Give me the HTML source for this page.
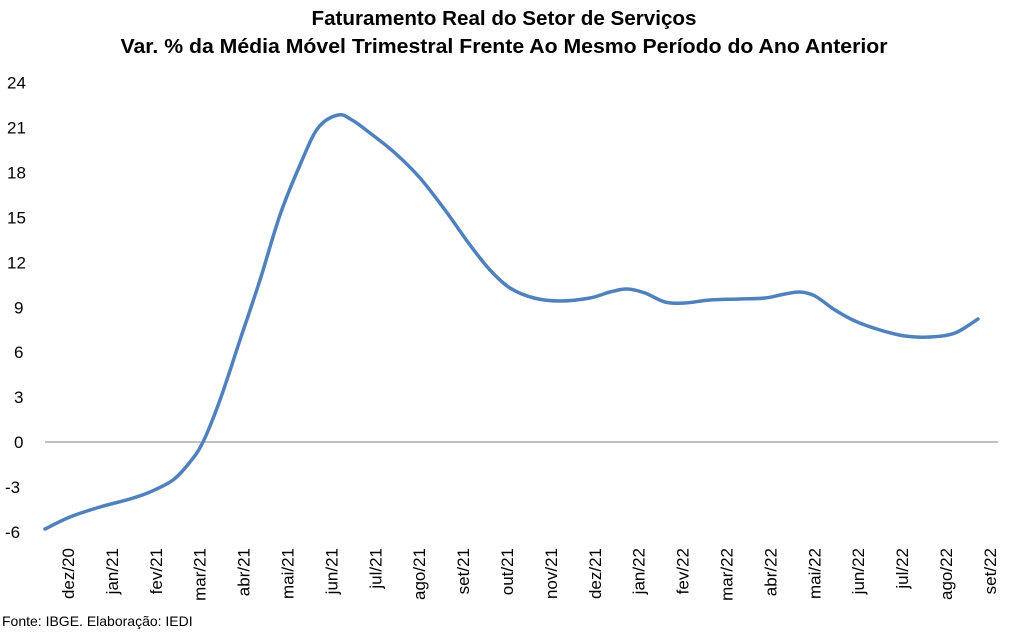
<!DOCTYPE html>
<html><head><meta charset="utf-8"><style>
body{margin:0;background:#fff;}
svg{display:block;font-family:"Liberation Sans",Calibri,sans-serif;}
</style></head><body>
<svg id="s" width="1013" height="632" xmlns="http://www.w3.org/2000/svg">
<text x="504" y="25" text-anchor="middle" font-size="20.5" font-weight="bold" textLength="385" lengthAdjust="spacingAndGlyphs">Faturamento Real do Setor de Serviços</text>
<text x="504" y="53" text-anchor="middle" font-size="20.5" font-weight="bold" textLength="767" lengthAdjust="spacingAndGlyphs">Var. % da Média Móvel Trimestral Frente Ao Mesmo Período do Ano Anterior</text>
<line x1="45" y1="442" x2="998" y2="442" stroke="#808080" stroke-width="1"/>
<g id="yl" font-size="17" text-anchor="start"></g>
<g id="xl" font-size="17"></g>
<path id="p" fill="none" stroke="#4f81bd" stroke-width="3.5" stroke-linejoin="round" stroke-linecap="round"/>
<text x="2" y="626" font-size="14">Fonte: IBGE. Elaboração: IEDI</text>
</svg>
<script>
var y0=442,k=14.97;
var yl=document.getElementById('yl');
for(var v=-6;v<=24;v+=3){var t=document.createElementNS('http://www.w3.org/2000/svg','text');t.setAttribute('x',v<0?5:(v>=10?7:14));t.setAttribute('y',y0-v*k+6);t.textContent=v;yl.appendChild(t);}
var labs=['dez/20','jan/21','fev/21','mar/21','abr/21','mai/21','jun/21','jul/21','ago/21','set/21','out/21','nov/21','dez/21','jan/22','fev/22','mar/22','abr/22','mai/22','jun/22','jul/22','ago/22','set/22'];
var xl=document.getElementById('xl');
labs.forEach(function(l,i){var x=74+i*43.9;var t=document.createElementNS('http://www.w3.org/2000/svg','text');t.setAttribute('transform','translate('+x+',548) rotate(-90)');t.setAttribute('text-anchor','end');t.textContent=l;xl.appendChild(t);});
var pts=[[45,529],[70,517],[100,507],[130,499],[150,492],[173,480],[190,462],[203,442],[220,400],[240,340],[260,280],[280,215],[300,165],[318,128],[338,115],[352,120],[370,133],[395,153],[420,178],[445,210],[470,245],[490,270],[510,288],[534,298],[560,301],[590,298],[610,292],[627,289],[645,293],[665,302],[685,303],[710,300],[740,299],[765,298],[785,294],[800,292],[815,296],[835,310],[855,321],[880,330],[905,336],[930,337],[955,333],[978,319]];
var s='M'+pts[0][0]+','+pts[0][1];
for(var i=0;i<pts.length-1;i++){var p0=pts[i-1]||pts[i],p1=pts[i],p2=pts[i+1],p3=pts[i+2]||p2;
var c1=[p1[0]+(p2[0]-p0[0])/6,p1[1]+(p2[1]-p0[1])/6],c2=[p2[0]-(p3[0]-p1[0])/6,p2[1]-(p3[1]-p1[1])/6];
s+='C'+c1+' '+c2+' '+p2;}
document.getElementById('p').setAttribute('d',s);
</script>
</body></html>
